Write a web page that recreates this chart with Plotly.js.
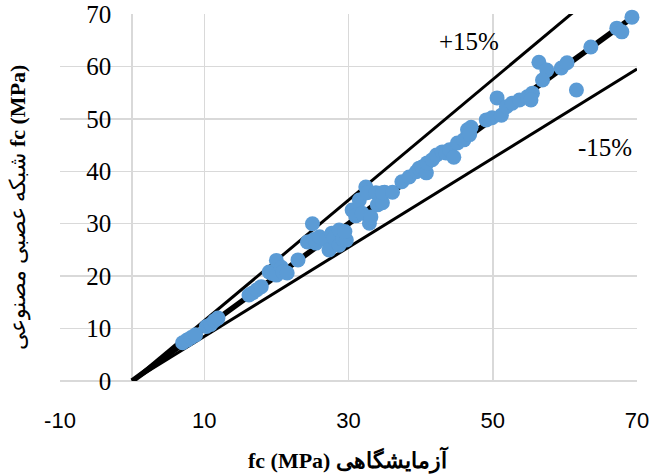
<!DOCTYPE html>
<html>
<head>
<meta charset="utf-8">
<script src="https://cdn.plot.ly/plotly-3.0.1.min.js"></script>
<style>html,body{margin:0;padding:0;background:#fff;}#chart{width:652px;height:476px;}</style>
</head>
<body>
<div id="chart"></div>
<script>
// Laboratory fc (MPa) vs ANN-predicted fc (MPa)
const labFc = [7.0,7.6,8.2,8.8,10.3,10.9,11.4,11.9,16.2,16.7,17.3,17.9,
  19.0,19.4,20.0,20.0,20.7,20.9,21.5,23.0,
  24.3,25.0,25.2,25.5,26.0,26.9,27.3,27.7,28.0,28.7,28.7,29.2,29.7,29.5,
  30.5,31.0,31.5,31.9,32.4,32.6,32.9,33.1,33.8,34.0,34.7,35.0,34.7,36.1,
  37.4,38.4,39.4,39.8,40.2,40.8,40.9,41.6,42.2,43.0,43.5,44.0,44.6,45.1,46.0,46.5,47.0,46.8,
  49.1,49.9,51.2,50.6,51.9,52.7,53.7,54.8,55.5,55.3,
  56.4,57.5,56.9,59.5,60.3,61.6,63.6,67.2,67.9,69.3];
const annFc = [7.3,7.8,8.3,8.8,10.4,10.8,11.5,12.0,16.4,16.8,17.4,18.0,
  20.8,20.5,23.0,20.2,21.7,20.8,20.6,23.1,
  26.5,30.0,27.0,26.3,27.5,26.9,25.0,28.2,27.3,28.8,25.9,27.0,26.9,28.5,
  32.6,31.5,34.5,32.0,37.0,35.9,30.1,31.3,35.9,33.6,34.0,36.0,35.9,36.0,
  38.0,38.9,39.9,40.6,40.8,39.7,41.6,42.2,43.1,43.7,43.5,44.1,42.7,45.4,46.0,47.9,48.4,47.0,
  49.8,50.2,50.7,54.0,52.3,53.0,53.6,54.2,54.9,53.6,
  60.8,59.3,57.4,59.7,60.7,55.5,63.7,67.3,66.6,69.4];
// reference lines: y = x, +15 %, -15 %
const refX = [0, 70];
const equalY = [0, 70];
const plus15Y = [0, 80.5];
const minus15Y = [0, 59.5];
const xTicks = [-10, 10, 30, 50, 70];
const yTicks = [0, 10, 20, 30, 40, 50, 60, 70];
const xTitle = 'fc (MPa) آزمایشگاهی';
const yTitlePersian = 'شبکه عصبی مصنوعی';
const yTitleUnit = 'fc (MPa)';
const plusLabel = '+15%';
const minusLabel = '-15%';

const serif = '"Liberation Serif", "Times New Roman", "DejaVu Serif", serif';
const traces = [
  {x: refX, y: plus15Y, mode: 'lines', line: {color: '#000', width: 3}, hoverinfo: 'skip'},
  {x: refX, y: minus15Y, mode: 'lines', line: {color: '#000', width: 3}, hoverinfo: 'skip'},
  {x: refX, y: equalY, mode: 'lines', line: {color: '#000', width: 5.5}, hoverinfo: 'skip'},
  {x: labFc, y: annFc, mode: 'markers', cliponaxis: false,
   marker: {color: '#5B9BD5', size: 15, line: {width: 0}}}
];
const layout = {
  width: 652, height: 476,
  margin: {l: 60, r: 15, t: 14, b: 95},
  paper_bgcolor: '#fff', plot_bgcolor: '#fff',
  showlegend: false,
  xaxis: {
    range: [-10, 70], tickvals: xTicks, ticktext: xTicks.map(String),
    showgrid: true, gridcolor: '#d9d9d9', gridwidth: 1.5,
    zeroline: true, zerolinecolor: '#d9d9d9', zerolinewidth: 1.5,
    showline: false, ticks: '', ticklabelstandoff: 24,
    tickfont: {family: '"Liberation Sans", Arial, sans-serif', size: 22, color: '#000'}
  },
  yaxis: {
    range: [0, 70], tickvals: yTicks, ticktext: yTicks.map(String),
    anchor: 'free', position: 0.125,
    showgrid: true, gridcolor: '#d9d9d9', gridwidth: 1.5,
    zeroline: true, zerolinecolor: '#d9d9d9', zerolinewidth: 1.5,
    showline: false, ticks: '', ticklabelstandoff: 21,
    tickfont: {family: serif, size: 25, color: '#000'}
  },
  annotations: [
    {text: plusLabel, x: 46.7, y: 64.7, xref: 'x', yref: 'y', showarrow: false,
     font: {family: serif, size: 25, color: '#000'}},
    {text: minusLabel, x: 65.5, y: 44.6, xref: 'x', yref: 'y', showarrow: false,
     font: {family: serif, size: 25, color: '#000'}},
    {text: '<b>' + xTitle + '</b>', xref: 'paper', yref: 'paper', x: 0.5, y: -0.215,
     xanchor: 'center', yanchor: 'middle', showarrow: false,
     font: {family: serif, size: 22, color: '#000'}},
    {text: yTitlePersian + ' <b>' + yTitleUnit + '</b>', xref: 'paper', yref: 'paper', x: -0.073, y: 0.475,
     xanchor: 'center', yanchor: 'middle', textangle: -90, showarrow: false,
     font: {family: serif, size: 22, color: '#000'}}
  ]
};
Plotly.newPlot('chart', traces, layout, {displayModeBar: false, staticPlot: true});
</script>
</body>
</html>
